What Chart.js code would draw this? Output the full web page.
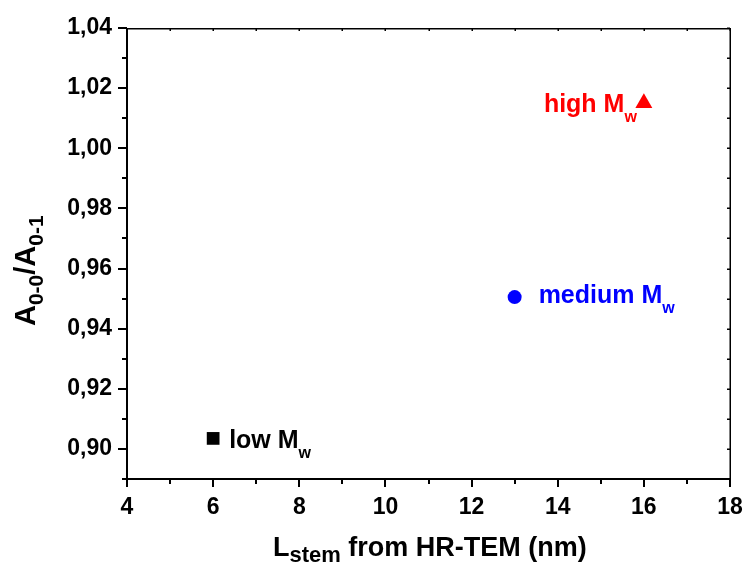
<!DOCTYPE html>
<html>
<head>
<meta charset="utf-8">
<script src="https://cdn.jsdelivr.net/npm/chart.js@4.4.0/dist/chart.umd.min.js"></script>
<style>
  html, body { margin: 0; padding: 0; background: #fff; }
</style>
</head>
<body>
<canvas id="stemChart" width="744" height="563"></canvas>
<script>
// data
const sampleNames = ['low', 'medium', 'high'];
const stemLength = [6, 13, 16];            // L_stem from HR-TEM (nm)
const ratioA = [0.9035, 0.9505, 1.015];    // A0-0 / A0-1
const pointColors = ['#000000', '#0000ff', '#ff0000'];
const pointShapes = ['rect', 'circle', 'triangle'];
const pointSizes = [9, 7, 9.8];
const xTickValues = [4, 6, 8, 10, 12, 14, 16, 18];
const yTickValues = [0.90, 0.92, 0.94, 0.96, 0.98, 1.00, 1.02, 1.04];

const FONT = "'Liberation Sans', Arial, Helvetica, sans-serif";

function fmtComma(v) {
  return v.toFixed(2).replace('.', ',');
}

// draws "main" followed by a lowered subscript, returns the end x
function subText(ctx, x, y, main, sub, size, subSize, drop) {
  ctx.font = 'bold ' + size + 'px ' + FONT;
  ctx.fillText(main, x, y);
  const w = ctx.measureText(main).width;
  ctx.font = 'bold ' + subSize + 'px ' + FONT;
  ctx.fillText(sub, x + w, y + drop);
  return x + w + ctx.measureText(sub).width;
}

const framePlugin = {
  id: 'frame',
  afterDraw(chart) {
    const { ctx, chartArea: a, scales } = chart;
    const xs = scales.x, ys = scales.y;
    const L = Math.round(a.left), R = Math.round(a.right);
    const T = Math.round(a.top), B = Math.round(a.bottom);
    ctx.save();
    ctx.fillStyle = '#000';

    // box: left/bottom heavier
    ctx.fillRect(L - 1, T, 2, B - T + 1);
    ctx.fillRect(L - 1, B - 1, R - L + 2, 2);
    ctx.fillRect(L, T, R - L + 1, 1.5);
    ctx.fillRect(R - 0.5, T, 1.5, B - T);

    // x ticks: outward on bottom, inward on top
    for (let v = xs.min; v <= xs.max; v++) {
      const px = Math.round(xs.getPixelForValue(v));
      const major = xTickValues.includes(v);
      ctx.fillRect(px - 1, B, 2, major ? 8 : 5);
      ctx.fillRect(px - 0.5, T, 1.5, 3);
    }
    // y ticks: outward on left, inward on right
    for (let k = Math.round(ys.min * 100); k <= Math.round(ys.max * 100); k++) {
      const py = Math.round(ys.getPixelForValue(k / 100));
      const major = yTickValues.some(t => Math.round(t * 100) === k);
      ctx.fillRect(L - (major ? 9 : 5), py - 1, major ? 9 : 5, 2);
      ctx.fillRect(R - 3, py - 0.5, 3, 1.5);
    }

    // axis titles
    ctx.textBaseline = 'alphabetic';
    ctx.textAlign = 'left';
    const stemEnd = subText(ctx, 273, 556, 'L', 'stem', 27, 22, 6);
    ctx.font = 'bold 27px ' + FONT;
    ctx.fillText(' from HR-TEM (nm)', stemEnd, 556);

    ctx.save();
    ctx.translate(35, 326);
    ctx.rotate(-Math.PI / 2);
    let cx = subText(ctx, 0, 0, 'A', '0-0', 29, 21, 8);
    ctx.font = 'bold 29px ' + FONT;
    ctx.fillText('/', cx, 0);
    cx += ctx.measureText('/').width;
    subText(ctx, cx, 0, 'A', '0-1', 29, 21, 8);
    ctx.restore();

    // sample labels next to the points
    const meta = chart.getDatasetMeta(0);
    sampleNames.forEach((name, i) => {
      const el = meta.data[i];
      ctx.fillStyle = pointColors[i];
      const main = name + ' M';
      ctx.font = 'bold 25px ' + FONT;
      const wMain = ctx.measureText(main).width;
      ctx.font = 'bold 16px ' + FONT;
      const wSub = ctx.measureText('w').width;
      let tx, ty;
      if (i === 0) { tx = el.x + 16; ty = el.y + 10; }
      else if (i === 1) { tx = el.x + 24; ty = el.y + 5.5; }
      else { tx = el.x - 7 - wMain - wSub; ty = el.y + 9; }
      subText(ctx, tx, ty, main, 'w', 25, 16, 10);
    });
    ctx.restore();
  }
};

new Chart(document.getElementById('stemChart').getContext('2d'), {
  type: 'scatter',
  data: {
    datasets: [{
      data: stemLength.map((v, i) => ({ x: v, y: ratioA[i] })),
      pointStyle: pointShapes,
      pointRadius: pointSizes,
      pointBackgroundColor: pointColors,
      pointBorderColor: pointColors,
      pointBorderWidth: 0
    }]
  },
  options: {
    responsive: false,
    animation: false,
    layout: { padding: { left: 0, top: 28, right: 0, bottom: 0 } },
    plugins: { legend: { display: false }, tooltip: { enabled: false } },
    scales: {
      x: {
        type: 'linear',
        min: 4,
        max: 18,
        afterBuildTicks: s => { s.ticks = xTickValues.map(v => ({ value: v })); },
        afterFit: s => { s.height = 84; s.paddingLeft = 0; s.paddingRight = 14; },
        grid: { display: false },
        border: { display: false },
        ticks: {
          autoSkip: false,
          maxRotation: 0,
          padding: 7,
          color: '#000',
          font: { family: FONT, size: 23, weight: 'bold' }
        }
      },
      y: {
        min: 0.89,
        max: 1.04,
        afterBuildTicks: s => { s.ticks = yTickValues.map(v => ({ value: v })); },
        afterFit: s => { s.width = 127; s.paddingTop = 0; s.paddingBottom = 0; },
        grid: { display: false },
        border: { display: false },
        ticks: {
          autoSkip: false,
          padding: 7,
          color: '#000',
          font: { family: FONT, size: 23, weight: 'bold' },
          callback: v => fmtComma(v)
        }
      }
    }
  },
  plugins: [framePlugin]
});
</script>
</body>
</html>
